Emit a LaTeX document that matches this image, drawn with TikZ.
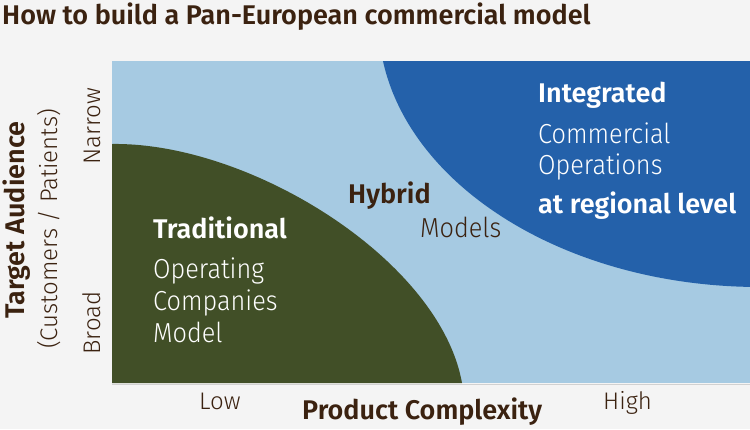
\documentclass[tikz,border=0pt]{standalone}
\usepackage{fontspec}
\IfFontExistsTF{Fira Sans Light}{%
  \setmainfont{Fira Sans}[UprightFont={* Light}, BoldFont={* SemiBold}]%
  \newfontfamily\lightf{Fira Sans Light}[FakeStretch=0.92]%
}{%
  \IfFontExistsTF{FiraSans-Light.otf}{%
    \setmainfont{FiraSans}[Extension=.otf, UprightFont=*-Light, BoldFont=*-SemiBold]%
    \newfontfamily\lightf{FiraSans-Light.otf}[FakeStretch=0.92]%
  }{%
    \setmainfont{Fira Sans}%
    \newfontfamily\lightf{Fira Sans}[FakeStretch=0.9]%
  }%
}
\definecolor{bgc}{HTML}{F4F4F4}
\definecolor{lblue}{HTML}{A6CAE2}
\definecolor{dblue}{HTML}{2461AA}
\definecolor{dgreen}{HTML}{414F27}
\definecolor{brownc}{HTML}{3B2210}
\tikzset{
  lbl/.style={inner sep=0pt, anchor=base west},
  big/.style={lbl, font=\lightf\fontsize{27.5}{27.5}\selectfont},
  bigb/.style={lbl, font=\fontsize{27}{27}\selectfont\bfseries},
  axl/.style={lbl, font=\fontsize{24}{24}\selectfont, text=brownc},
  axb/.style={lbl, font=\fontsize{27}{27}\selectfont\bfseries, text=brownc},
  rot/.style={inner sep=0pt, anchor=base, rotate=90},
}
\begin{document}
\begin{tikzpicture}[x=1pt,y=-1pt]
\useasboundingbox (0,0) rectangle (750,429);
\fill[bgc] (0,0) rectangle (750,429);
% plot area
\fill[lblue] (112,61) rectangle (750,383);
\begin{scope}
  \clip (112,61) rectangle (750,383);
  \fill[dblue] (760,20) ellipse [x radius=381.5, y radius=267];
\end{scope}
\fill[dgreen] (112,144) .. controls (250,142) and (440,260) .. (462,383) -- (112,383) -- cycle;
\draw[black!18, line width=1pt] (112,384) -- (750,384);
% title
\node[bigb, text=brownc] (title) at (2,24) {How to build a Pan-European commercial model};
% integrated
\node[bigb, text=white] (integ) at (538,102) {Integrated};
\node[big, text=white] (comm) at (538,143) {Commercial};
\node[big, text=white] (oper) at (538,174) {Operations};
\node[bigb, text=white] (regl) at (538,213) {at regional level};
% hybrid
\node[bigb, text=brownc] (hyb) at (348,203) {Hybrid};
\node[big, text=brownc] (models) at (420,237) {Models};
% traditional
\node[bigb, text=white] (trad) at (153,238) {Traditional};
\node[big, text=white] (opc) at (153,278) {Operating};
\node[big, text=white] (comp) at (153,310) {Companies};
\node[big, text=white] (model) at (153,342) {Model};
% x axis
\node[axl] (low) at (199,409) {Low};
\node[axl] (high) at (603,409) {High};
\node[axb] (pc) at (302,419) {Product Complexity};
% y axis
\node[rot, font=\fontsize{27}{27}\selectfont\bfseries, text=brownc] (ta) at (24,220) {Target Audience};
\node[rot, font=\fontsize{24}{24}\selectfont, text=brownc] (cp) at (57,229) {(Customers / Patients)};
\node[rot, font=\fontsize{24}{24}\selectfont, text=brownc] (narrow) at (100,126) {Narrow};
\node[rot, font=\fontsize{24}{24}\selectfont, text=brownc] (broad) at (100,323) {Broad};
\end{tikzpicture}
\end{document}
